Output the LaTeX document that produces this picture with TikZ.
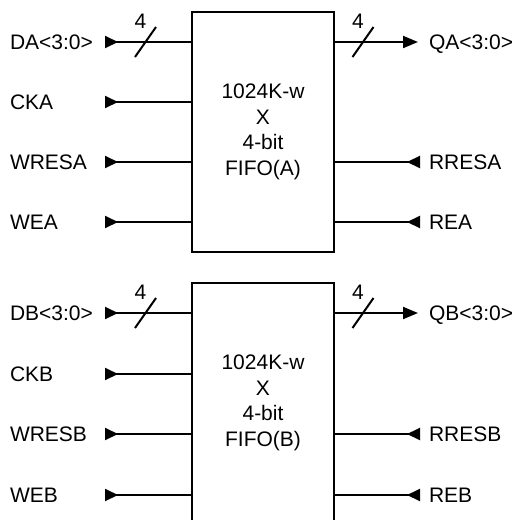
\documentclass[tikz,border=0pt]{standalone}
\usepackage{fontspec}
\setmainfont{Liberation Sans}
\usetikzlibrary{arrows.meta,positioning}

\begin{document}
\begin{tikzpicture}[x=1pt,y=-1pt,line width=2pt,
  font=\fontsize{21}{25.5}\selectfont,
  fifo/.style={draw,align=center,minimum width=142pt,minimum height=240pt,inner sep=0pt},
  sig/.style={inner sep=0pt,text height=15pt,text depth=0pt},
  inpin/.style={arrows={Triangle[reversed,length=13pt,width=12pt]-}},
  outpin/.style={arrows={-Triangle[length=15pt,width=12pt]}}]
\useasboundingbox (0,0) rectangle (516,520);
\clip (0,0) rectangle (516,520);

% FIFO A
\node[fifo] (fa) at (263,132) {1024K-w\\X\\4-bit\\FIFO(A)};

\node[sig,anchor=west] (DA) at (9,42) {DA<3:0>};
\node[sig,anchor=west] (CKA) at (9,102) {CKA};
\node[sig,anchor=west] (WRESA) at (9,162) {WRESA};
\node[sig,anchor=west] (WEA) at (9,222) {WEA};
\node[sig,anchor=west] (QA) at (428,42) {QA<3:0>};
\node[sig,anchor=west] (RRESA) at (428,162) {RRESA};
\node[sig,anchor=west] (REA) at (428,222) {REA};

\coordinate (iDA) at (105,42);
\coordinate (iCKA) at (105,102);
\coordinate (iWRESA) at (105,162);
\coordinate (iWEA) at (105,222);
\coordinate (oQA) at (418,42);
\coordinate (iRRESA) at (420,162);
\coordinate (iREA) at (420,222);

\draw[inpin] (iDA) -- (iDA -| fa.west);
\draw[inpin] (iCKA) -- (iCKA -| fa.west);
\draw[inpin] (iWRESA) -- (iWRESA -| fa.west);
\draw[inpin] (iWEA) -- (iWEA -| fa.west);
\draw[outpin] (oQA -| fa.east) -- (oQA);
\draw[inpin] (iRRESA) -- (iRRESA -| fa.east);
\draw[inpin] (iREA) -- (iREA -| fa.east);

% bus width marks
\coordinate (sDA) at (145.5,42);
\coordinate (sQA) at (363,42);
\draw ([shift={(-10.5,15)}]sDA) -- ([shift={(10.5,-15)}]sDA);
\draw ([shift={(-10.5,15)}]sQA) -- ([shift={(10.5,-15)}]sQA);
\node[sig] (wDA) at ([shift={(-5,-21)}]sDA) {4};
\node[sig] (wQA) at ([shift={(-5,-21)}]sQA) {4};

% FIFO B
\node[fifo] (fb) at (263,403) {1024K-w\\X\\4-bit\\FIFO(B)};

\node[sig,anchor=west] (DB) at (9,313) {DB<3:0>};
\node[sig,anchor=west] (CKB) at (9,374) {CKB};
\node[sig,anchor=west] (WRESB) at (9,434) {WRESB};
\node[sig,anchor=west] (WEB) at (9,495) {WEB};
\node[sig,anchor=west] (QB) at (428,313) {QB<3:0>};
\node[sig,anchor=west] (RRESB) at (428,434) {RRESB};
\node[sig,anchor=west] (REB) at (428,495) {REB};

\coordinate (iDB) at (105,313);
\coordinate (iCKB) at (105,374);
\coordinate (iWRESB) at (105,434);
\coordinate (iWEB) at (105,495);
\coordinate (oQB) at (418,313);
\coordinate (iRRESB) at (420,434);
\coordinate (iREB) at (420,495);

\draw[inpin] (iDB) -- (iDB -| fb.west);
\draw[inpin] (iCKB) -- (iCKB -| fb.west);
\draw[inpin] (iWRESB) -- (iWRESB -| fb.west);
\draw[inpin] (iWEB) -- (iWEB -| fb.west);
\draw[outpin] (oQB -| fb.east) -- (oQB);
\draw[inpin] (iRRESB) -- (iRRESB -| fb.east);
\draw[inpin] (iREB) -- (iREB -| fb.east);

\coordinate (sDB) at (145.5,313);
\coordinate (sQB) at (363,313);
\draw ([shift={(-10.5,15)}]sDB) -- ([shift={(10.5,-15)}]sDB);
\draw ([shift={(-10.5,15)}]sQB) -- ([shift={(10.5,-15)}]sQB);
\node[sig] (wDB) at ([shift={(-5,-21)}]sDB) {4};
\node[sig] (wQB) at ([shift={(-5,-21)}]sQB) {4};
\end{tikzpicture}
\end{document}
